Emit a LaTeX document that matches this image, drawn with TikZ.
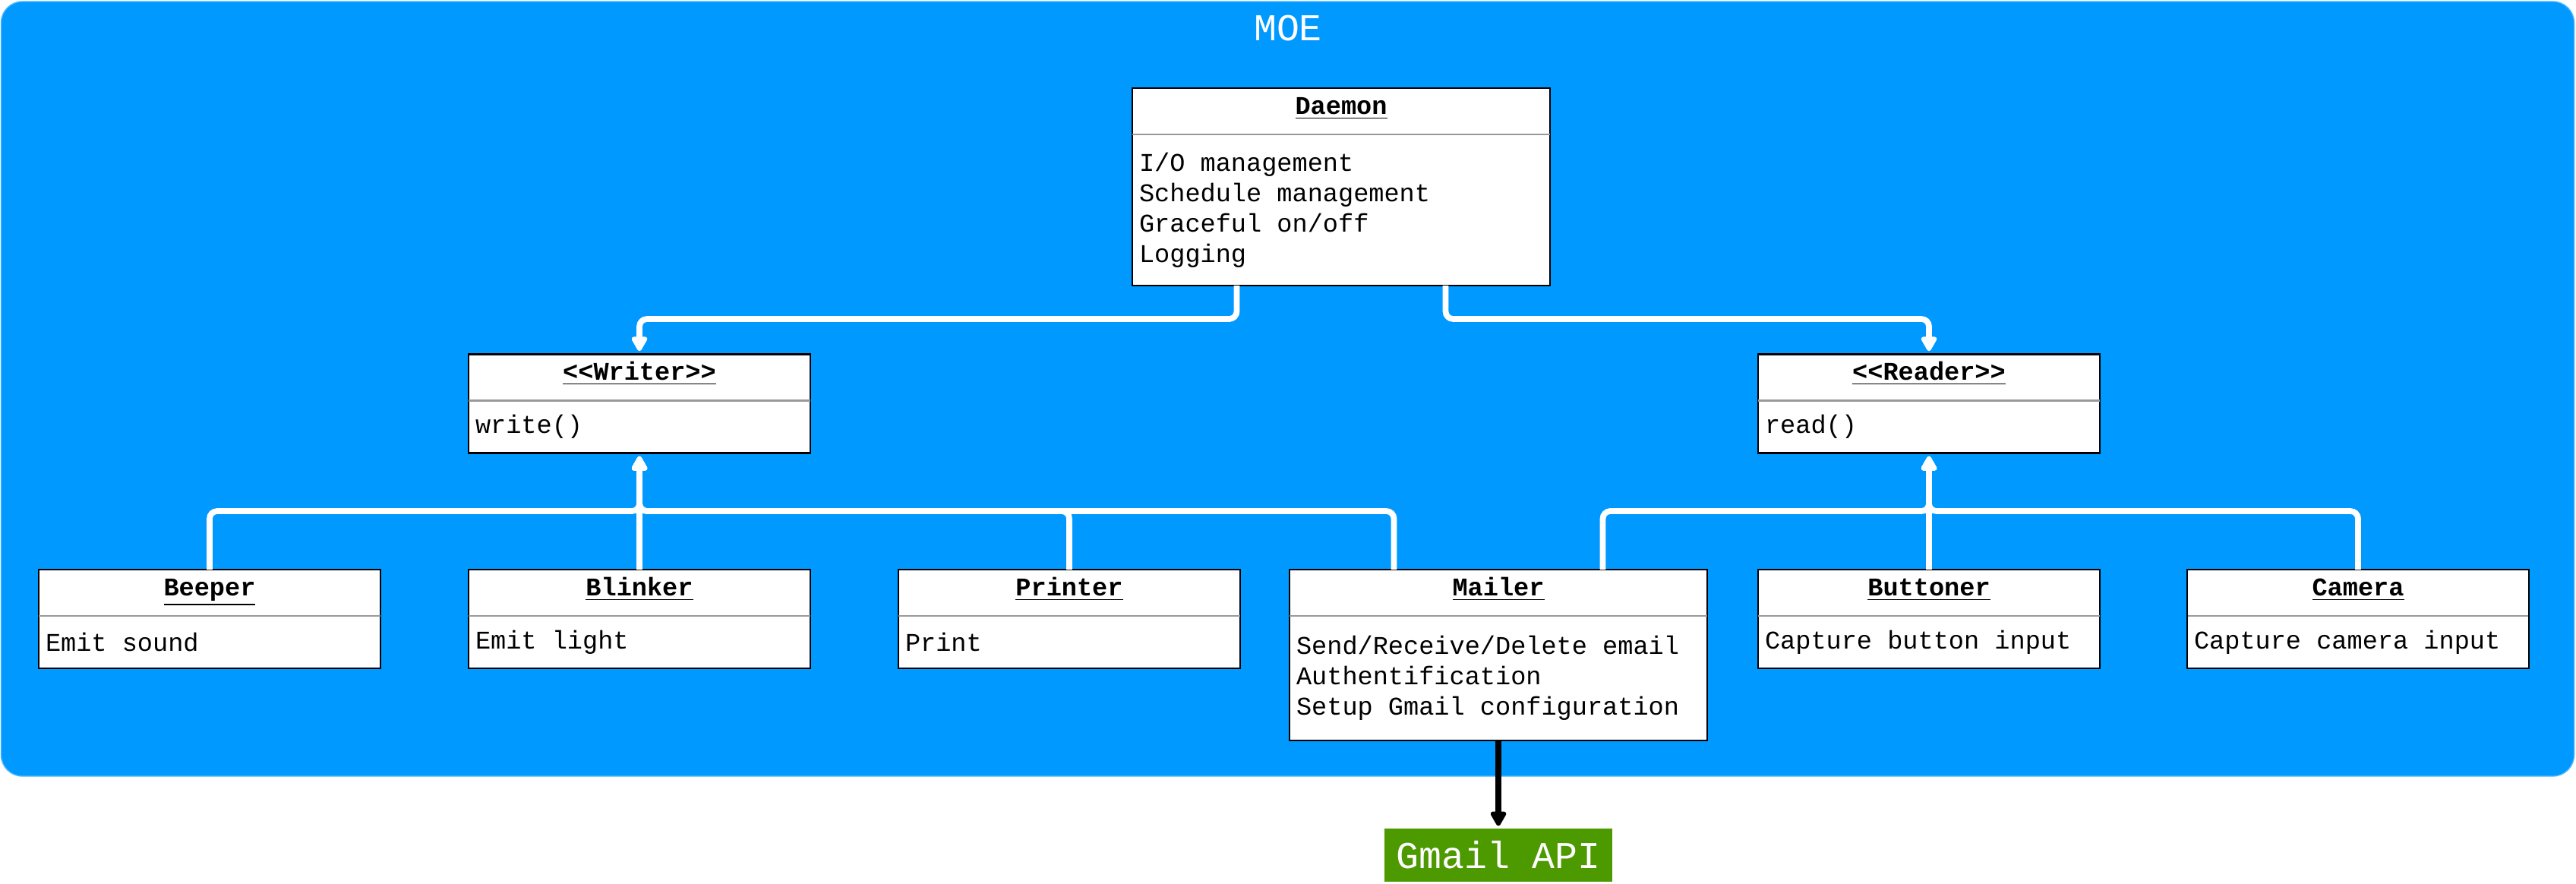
\documentclass[tikz,border=0pt]{standalone}
\usepackage{fontspec}
\setmainfont{Liberation Mono}
\usepackage{xcolor}
\usepackage{tikz}
\usetikzlibrary{arrows.meta,positioning}

\definecolor{moeblue}{RGB}{0,153,255}
\definecolor{apigreen}{RGB}{77,153,0}

\begin{document}
\begin{tikzpicture}[
	inh/.style = {draw=white, line width=2.2pt, rounded corners=0.1cm, -{Triangle[width=0.23cm,length=0.22cm,round]}, shorten >=1.2pt},
	uses/.style = {draw=black, line width=2.2pt, -{Triangle[width=0.23cm,length=0.22cm,round]}, shorten >=1pt},
	head/.style = {draw, line width=0.6pt, outer sep=0pt, fill=white, minimum height=0.61cm, inner sep=0pt, text height=0.25cm, text depth=0.18cm, font=\fontsize{9.56}{11.38}\selectfont\bfseries},
	ops/.style = {draw, line width=0.6pt, outer sep=0pt, fill=white, inner xsep=0.09cm, inner ysep=0pt, align=flush left, font=\fontsize{9.56}{11.38}\selectfont},
	sepline/.style = {draw=gray!80, line width=0.7pt, shorten <=0.4pt, shorten >=0.4pt},
	group/.style = {draw=moeblue!70!white, line width=0.4pt, fill=moeblue, rounded corners=0.28cm},
	grouptitle/.style = {anchor=base, text=white, inner sep=0pt, font=\fontsize{14.2}{17}\selectfont},
	api/.style = {fill=apigreen, text=white, outer sep=0pt, minimum width=3cm, minimum height=0.7cm, inner sep=0pt, font=\fontsize{14.2}{17}\selectfont}
	]
	\useasboundingbox (0,0) rectangle (33.92,-11.63);
	
	% container
	\node[group, minimum width=33.88cm, minimum height=10.2cm] (moe) at (16.955,-5.12) {};
	\node[grouptitle] (moetitle) at (16.96,-0.53) {MOE};
	
	% daemon
	\node[head, minimum width=5.5cm] (daemon) at (17.66,-1.465) {\underline{Daemon}};
	\node[ops, text width=5.32cm, minimum height=1.99cm, below=0pt of daemon] (daemonops) {I/O management\\Schedule management\\Graceful on/off\\Logging};
	
	% interfaces
	\node[head, minimum width=4.5cm] (writer) at (8.42,-4.97) {\underline{<{}<Writer>{}>}};
	\node[ops, text width=4.32cm, minimum height=0.69cm, below=0pt of writer] (writerops) {write()};
	\node[head, minimum width=4.5cm, right=12.48cm of writer] (reader) {\underline{<{}<Reader>{}>}};
	\node[ops, text width=4.32cm, minimum height=0.69cm, below=0pt of reader] (readerops) {read()};
	
	% modules
	\node[head, minimum width=4.5cm] (beeper) at (2.76,-7.805) {\underline{Beeper}};
	\node[ops, text width=4.32cm, minimum height=0.69cm, below=0pt of beeper] (beeperops) {Emit sound};
	\node[head, minimum width=4.5cm, right=1.16cm of beeper] (blinker) {\underline{Blinker}};
	\node[ops, text width=4.32cm, minimum height=0.69cm, below=0pt of blinker] (blinkerops) {Emit light};
	\node[head, minimum width=4.5cm, right=1.16cm of blinker] (printer) {\underline{Printer}};
	\node[ops, text width=4.32cm, minimum height=0.69cm, below=0pt of printer] (printerops) {Print};
	\node[head, minimum width=5.5cm, right=0.65cm of printer] (mailer) {\underline{Mailer}};
	\node[ops, text width=5.32cm, minimum height=1.64cm, below=0pt of mailer] (mailerops) {Send/Receive/Delete email\\Authentification\\Setup Gmail configuration};
	\node[head, minimum width=4.5cm, right=0.67cm of mailer] (buttoner) {\underline{Buttoner}};
	\node[ops, text width=4.32cm, minimum height=0.69cm, below=0pt of buttoner] (buttonerops) {Capture button input};
	\node[head, minimum width=4.5cm, right=1.15cm of buttoner] (camera) {\underline{Camera}};
	\node[ops, text width=4.32cm, minimum height=0.69cm, below=0pt of camera] (cameraops) {Capture camera input};
	
	\node[api, below=1.16cm of mailerops] (gmail) {Gmail API};
	
	\draw[sepline]
	(daemon.south west) -- (daemon.south east)
	(writer.south west) -- (writer.south east)
	(reader.south west) -- (reader.south east)
	(beeper.south west) -- (beeper.south east)
	(blinker.south west) -- (blinker.south east)
	(printer.south west) -- (printer.south east)
	(mailer.south west) -- (mailer.south east)
	(buttoner.south west) -- (buttoner.south east)
	(camera.south west) -- (camera.south east);
	
	\draw[inh] ([xshift=-1.375cm]daemonops.south) -- ++(0,-0.44) -| (writer.north);
	\draw[inh] ([xshift=1.375cm]daemonops.south) -- ++(0,-0.44) -| (reader.north);
	
	\draw[inh] (beeper.north) -- ++(0,0.77) -| (writerops.south);
	\draw[inh] (blinker.north) -- (writerops.south);
	\draw[inh] (printer.north) -- ++(0,0.77) -| (writerops.south);
	\draw[inh] ([xshift=-1.375cm]mailer.north) -- ++(0,0.77) -| (writerops.south);
	
	\draw[inh] ([xshift=1.375cm]mailer.north) -- ++(0,0.77) -| (readerops.south);
	\draw[inh] (buttoner.north) -- (readerops.south);
	\draw[inh] (camera.north) -- ++(0,0.77) -| (readerops.south);
	
	\draw[uses] (mailerops) -- (gmail);
\end{tikzpicture}
\end{document}
